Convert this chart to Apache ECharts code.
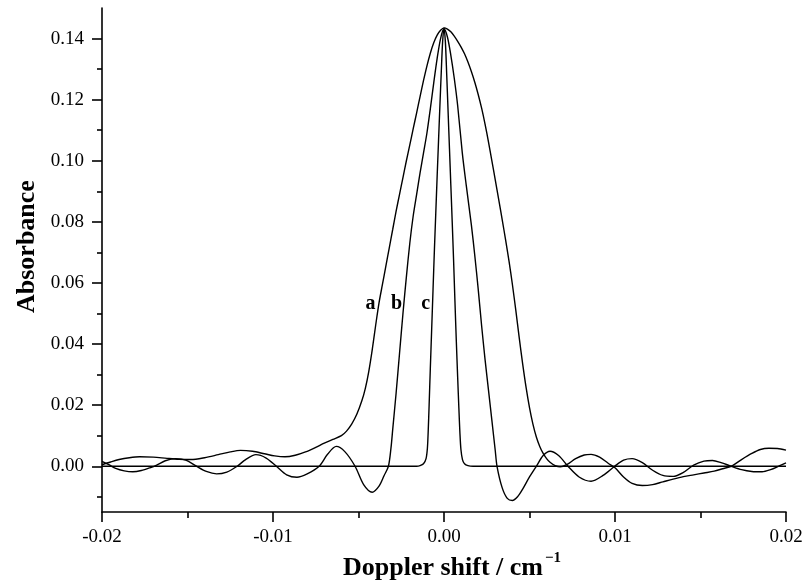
<!DOCTYPE html>
<html>
<head>
<meta charset="utf-8">
<script src="https://cdn.jsdelivr.net/npm/echarts@6/dist/echarts.min.js"></script>
<style>html,body{margin:0;padding:0;background:#fff}#c{width:807px;height:586px}</style>
</head>
<body>
<div id="c"></div>
<script>
// ---- data ----
const xA = [-0.0200,-0.0195,-0.0190,-0.0184,-0.0178,-0.0170,-0.0162,-0.0155,-0.0148,-0.0140,-0.0132,-0.0125,-0.0119,-0.0112,-0.0105,-0.0099,-0.0093,-0.0087,-0.0081,-0.0075,-0.0070,-0.0065,-0.0060,-0.0057,-0.0054,-0.0051,-0.0048,-0.0046,-0.0044,-0.0042,-0.0040,-0.0038,-0.0036,-0.0034,-0.0032,-0.0030,-0.0028,-0.0026,-0.0024,-0.0022,-0.0020,-0.0018,-0.0016,-0.0014,-0.0012,-0.0010,-0.0008,-0.0006,-0.0004,-0.0002,0.0000,0.0002,0.0004,0.0006,0.0008,0.0010,0.0012,0.0014,0.0016,0.0018,0.0020,0.0022,0.0024,0.0026,0.0028,0.0030,0.0032,0.0034,0.0036,0.0038,0.0040,0.0042,0.0044,0.0046,0.0048,0.0050,0.0052,0.0054,0.0056,0.0058,0.0060,0.0062,0.0065,0.0068,0.0072,0.0077,0.0082,0.0086,0.0091,0.0096,0.0100,0.0105,0.0110,0.0116,0.0122,0.0128,0.0134,0.0140,0.0146,0.0152,0.0158,0.0163,0.0168,0.0174,0.0180,0.0185,0.0190,0.0195,0.0200];
const yA = [0.0005,0.0014,0.0022,0.0028,0.0031,0.0030,0.0026,0.0023,0.0022,0.0028,0.0038,0.0047,0.0052,0.0049,0.0041,0.0034,0.0031,0.0036,0.0047,0.0062,0.0076,0.0088,0.0100,0.0115,0.0138,0.0170,0.0215,0.0255,0.0310,0.0380,0.0460,0.0535,0.0595,0.0655,0.0715,0.0775,0.0835,0.0890,0.0945,0.1000,0.1052,0.1105,0.1157,0.1210,0.1262,0.1310,0.1352,0.1386,0.1411,0.1427,0.1435,0.1431,0.1422,0.1408,0.1391,0.1372,0.1350,0.1323,0.1292,0.1257,0.1217,0.1172,0.1120,0.1062,0.1000,0.0937,0.0873,0.0808,0.0742,0.0672,0.0595,0.0510,0.0420,0.0335,0.0258,0.0192,0.0138,0.0096,0.0065,0.0042,0.0025,0.0013,0.0002,-0.0002,0.0006,0.0025,0.0037,0.0039,0.0030,0.0010,-0.0005,-0.0035,-0.0056,-0.0063,-0.0060,-0.0051,-0.0042,-0.0034,-0.0028,-0.0022,-0.0016,-0.0008,0.0000,0.0022,0.0042,0.0055,0.0059,0.0058,0.0053];

const xB = [-0.0200,-0.0196,-0.0192,-0.0187,-0.0182,-0.0177,-0.0172,-0.0168,-0.0163,-0.0157,-0.0151,-0.0145,-0.0139,-0.0133,-0.0127,-0.0121,-0.0116,-0.0110,-0.0104,-0.0098,-0.0092,-0.0086,-0.0080,-0.0073,-0.0068,-0.0063,-0.0058,-0.0052,-0.0047,-0.0042,-0.0038,-0.0035,-0.00325,-0.0031,-0.0030,-0.0028,-0.0026,-0.0024,-0.0022,-0.0020,-0.0018,-0.0016,-0.0014,-0.0012,-0.0010,-0.0008,-0.0006,-0.0004,-0.0002,0.0000,0.0002,0.0004,0.0006,0.0008,0.00107,0.0013,0.0016,0.0018,0.0020,0.0022,0.0024,0.0026,0.0028,0.0030,0.0031,0.0034,0.0037,0.0040,0.0043,0.0046,0.0050,0.0054,0.0058,0.0062,0.0067,0.00725,0.0079,0.0086,0.0093,0.00998,0.0105,0.0110,0.0116,0.0122,0.0128,0.0134,0.0140,0.0146,0.0152,0.0157,0.0162,0.0168,0.0174,0.0180,0.0186,0.0191,0.0196,0.0200];
const yB = [0.0016,0.0005,-0.0007,-0.0015,-0.0018,-0.0014,-0.0005,0.0004,0.0018,0.0025,0.0020,0.0001,-0.0017,-0.0025,-0.0019,0.0000,0.0022,0.0038,0.0027,0.0000,-0.0028,-0.0036,-0.0025,0.0000,0.0040,0.0065,0.0048,0.0000,-0.0060,-0.0085,-0.0065,-0.0030,0.0000,0.0060,0.0120,0.0240,0.0370,0.0500,0.0620,0.0730,0.0820,0.0890,0.0960,0.1025,0.1090,0.1170,0.1255,0.1335,0.1400,0.1432,0.1405,0.1345,0.1270,0.1180,0.1026,0.0920,0.0790,0.0690,0.0580,0.0460,0.0350,0.0250,0.0150,0.0050,0.0000,-0.0070,-0.0105,-0.0112,-0.0100,-0.0075,-0.0035,0.0000,0.0035,0.0049,0.0035,0.0000,-0.0035,-0.0049,-0.0030,0.0000,0.0020,0.0025,0.0012,-0.0013,-0.0030,-0.0033,-0.0020,0.0004,0.0017,0.0019,0.0012,0.0000,-0.0011,-0.0017,-0.0018,-0.0011,0.0001,0.0011];

const xC = [-0.0200,-0.0016,-0.0014,-0.0012,-0.00105,-0.00097,-0.00092,-0.00087,-0.00080,-0.00072,-0.00064,-0.00056,-0.00048,-0.00040,-0.00032,-0.00024,-0.00016,-0.00008,0.0000,0.00008,0.00016,0.00024,0.00032,0.00040,0.00048,0.00056,0.00064,0.00072,0.00080,0.00087,0.00093,0.00099,0.00108,0.0012,0.0014,0.0017,0.0200];
const yC = [0,0,0.0002,0.0008,0.0025,0.0060,0.0120,0.0200,0.0320,0.0450,0.0580,0.0710,0.0830,0.0950,0.1065,0.1180,0.1290,0.1390,0.1435,0.1390,0.1280,0.1160,0.1040,0.0920,0.0800,0.0675,0.0540,0.0410,0.0290,0.0190,0.0110,0.0055,0.0022,0.0008,0.0002,0,0];

const curveNames = ['a', 'b', 'c'];
const labelX = [-0.0043, -0.00277, -0.00107];
const labelY = [0.0532, 0.0532, 0.0532];

const xTickValues = [-0.02, -0.01, 0, 0.01, 0.02];
const yTickValues = [0, 0.02, 0.04, 0.06, 0.08, 0.10, 0.12, 0.14];
const yMinorValues = [-0.01, 0.01, 0.03, 0.05, 0.07, 0.09, 0.11, 0.13];

// ---- chart ----
const pairs = (xs, ys) => xs.map((x, i) => [x, ys[i]]);
const FONT = 'Liberation Serif';
const lineSeries = (name, xs, ys) => ({
  name, type: 'line', data: pairs(xs, ys), showSymbol: false, symbol: 'none',
  smooth: 0.3,
  lineStyle: { color: '#000', width: 1.4 }, z: 3
});

const chart = echarts.init(document.getElementById('c'), null, { renderer: 'canvas' });
chart.setOption({
  animation: false,
  backgroundColor: '#fff',
  grid: { left: 102, right: 21, top: 8, bottom: 73, containLabel: false },
  xAxis: {
    type: 'value', min: xTickValues[0], max: xTickValues[xTickValues.length - 1], interval: 0.01,
    axisLine: { show: true, onZero: false, lineStyle: { color: '#000', width: 1.6 } },
    axisTick: { show: true, length: 10, lineStyle: { color: '#000', width: 1.6 } },
    minorTick: { show: true, splitNumber: 2, length: 6, lineStyle: { color: '#000', width: 1.6 } },
    splitLine: { show: false },
    axisLabel: { color: '#000', fontFamily: FONT, fontSize: 19, margin: 15,
      formatter: v => v.toFixed(2) },
    name: '{t|Doppler shift / cm}{s|−1}',
    nameLocation: 'middle', nameGap: 36,
    nameTextStyle: {
      padding: [0, 0, 0, 16],
      rich: {
        t: { fontFamily: FONT, fontWeight: 'bold', fontSize: 26, color: '#000', lineHeight: 30, verticalAlign: 'bottom' },
        s: { fontFamily: FONT, fontWeight: 'bold', fontSize: 15, color: '#000', lineHeight: 30, verticalAlign: 'top', padding: [0, 0, 0, 2] }
      }
    }
  },
  yAxis: [{
    type: 'value', min: -0.015, max: 0.15,
    axisLine: { show: true, onZero: false, lineStyle: { color: '#000', width: 1.6 } },
    axisTick: { show: true, length: 10, customValues: yTickValues, lineStyle: { color: '#000', width: 1.6 } },
    splitLine: { show: false },
    axisLabel: { color: '#000', fontFamily: FONT, fontSize: 19, margin: 18, customValues: yTickValues,
      formatter: v => v.toFixed(2) },
    name: 'Absorbance', nameLocation: 'middle', nameGap: 62, nameRotate: 90,
    nameTextStyle: { fontFamily: FONT, fontWeight: 'bold', fontSize: 26, color: '#000', padding: [0, 0, 0, 27] }
  }, {
    type: 'value', min: -0.015, max: 0.15, position: 'left', offset: 0,
    axisLine: { show: false, onZero: false },
    axisTick: { show: true, length: 5, customValues: yMinorValues, lineStyle: { color: '#000', width: 1.6 } },
    axisLabel: { show: false },
    splitLine: { show: false }
  }],
  series: [
    lineSeries('a', xA, yA),
    lineSeries('b', xB, yB),
    lineSeries('c', xC, yC),
    {
      type: 'scatter', symbolSize: 0, silent: true, z: 5,
      data: curveNames.map((n, i) => ({ value: [labelX[i], labelY[i]], name: n })),
      itemStyle: { opacity: 1 },
      label: { show: true, position: 'inside', formatter: p => p.name,
        fontFamily: FONT, fontWeight: 'bold', fontSize: 20, color: '#000', opacity: 1 }
    }
  ]
});
</script>
</body>
</html>
